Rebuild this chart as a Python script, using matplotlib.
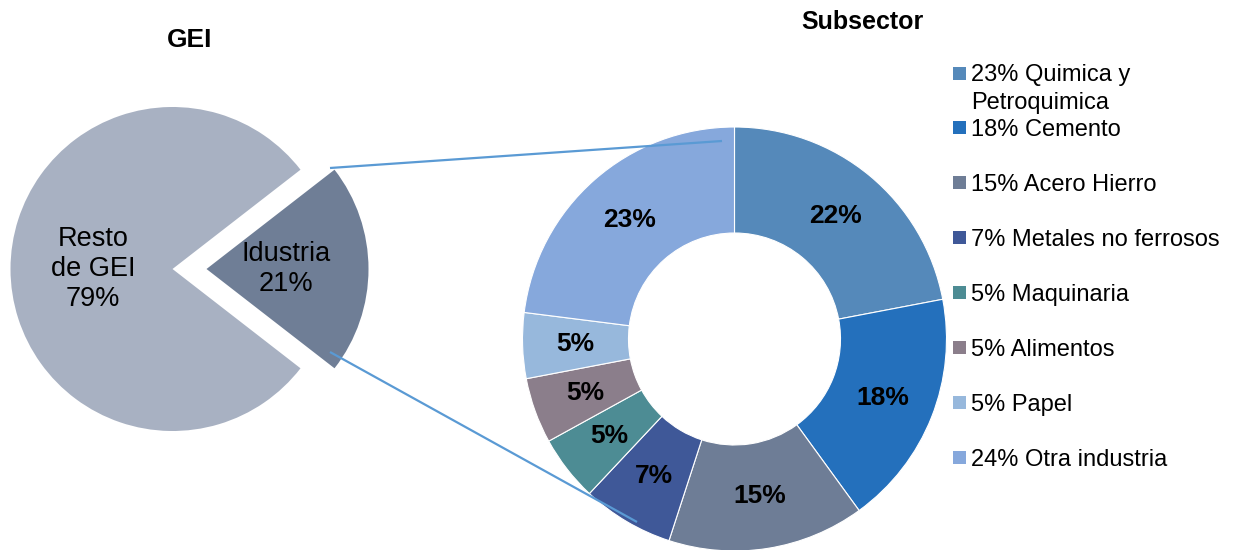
import matplotlib
matplotlib.use("Agg")
import matplotlib.pyplot as plt
from matplotlib.patches import Rectangle

plt.rcParams['font.family'] = ['Liberation Sans', 'DejaVu Sans']

# GEI total split
gei_labels = ['Idustria\n21%', 'Resto\nde GEI\n79%']
gei_values = [21, 79]
gei_colors = ['#6F7E96', '#A8B1C2']

# industry subsectors (clockwise from 12 o'clock)
sub_values = [22, 18, 15, 7, 5, 5, 5, 23]
sub_colors = ['#5589BA', '#2470BC', '#6E7D96', '#3F5898',
              '#4D8C94', '#8B7E8B', '#97B8DC', '#86A8DC']
legend_labels = ['23% Quimica y\nPetroquimica', '18% Cemento', '15% Acero Hierro',
                 '7% Metales no ferrosos', '5% Maquinaria', '5% Alimentos',
                 '5% Papel', '24% Otra industria']

W, H = 1235, 550
fig = plt.figure(figsize=(W / 100, H / 100), dpi=100)
ax = fig.add_axes([0, 0, 1, 1])

# left pie, industry slice pulled out
half = gei_values[0] * 3.6 / 2
wedges, texts = ax.pie(gei_values, labels=gei_labels, colors=gei_colors,
                       startangle=-half, center=(172.5, H - 269), radius=162,
                       explode=[34, 0], labeldistance=0.49,
                       textprops=dict(fontsize=19.5, linespacing=1.2))
for t in texts:
    t.set_ha('center')
    t.set_va('center')

# right donut
wedges2, texts2, autotexts = ax.pie(
    sub_values, colors=sub_colors, startangle=90, counterclock=False,
    center=(734.5, H - 339), radius=212,
    wedgeprops=dict(width=106, edgecolor='white', linewidth=0.8),
    autopct=lambda p: f'{round(p)}%', pctdistance=0.75,
    textprops=dict(fontsize=19, fontweight='bold', color='black'))

# connector lines between the two charts
line_kw = dict(color='#5A9AD4', lw=1.6, solid_capstyle='butt', zorder=5)
ax.plot([330, 722], [H - 168, H - 141], **line_kw)
ax.plot([330, 637], [H - 352, H - 522], **line_kw)

# titles
ax.text(190, H - 40, 'GEI', ha='center', va='center', fontsize=19, fontweight='bold')
ax.text(862, H - 22, 'Subsector', ha='center', va='center', fontsize=18, fontweight='bold')

# legend, drawn line by line so wrapped labels hang below the marker
y0, step, line_h = 73, 54.9, 27
for i, (lab, col) in enumerate(zip(legend_labels, sub_colors)):
    y = y0 + i * step
    ax.add_patch(Rectangle((953, H - y - 6.5), 13, 13, facecolor=col, edgecolor='none'))
    for j, part in enumerate(lab.split('\n')):
        ax.text(971, H - (y + 8.5 + j * line_h), part, ha='left', va='baseline', fontsize=17)

ax.set_xlim(0, W)
ax.set_ylim(0, H)
ax.set_aspect('equal')
ax.axis('off')

fig.savefig('out.png', dpi=100)
